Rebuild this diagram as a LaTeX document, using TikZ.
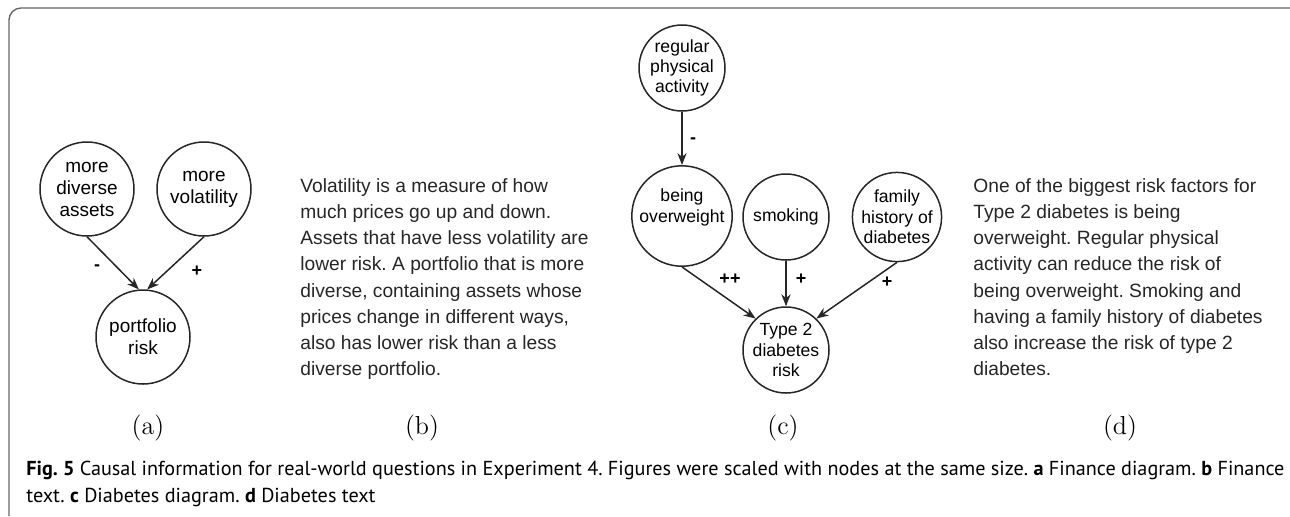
\documentclass[tikz,border=0pt]{standalone}
\usepackage{fontspec}
\newfontfamily\arial{Liberation Sans}
\newfontfamily\capfont{PT Sans}
\usepackage{tikz}
\usetikzlibrary{positioning, arrows.meta}
\frenchspacing

\begin{document}
\begin{tikzpicture}[x=0.5pt, y=-0.5pt,
    var/.style={circle, draw=black!85, line width=0.75pt, inner sep=0pt, align=center},
    bigvar/.style={var, minimum size=47pt, font=\arial\fontsize{9.5}{11}\selectfont},
    smallvar/.style={var, minimum size=43pt, font=\arial\fontsize{8.8}{10.2}\selectfont},
    link/.style={-{Stealth[length=6pt, width=4.6pt]}, line width=0.75pt, black!85},
    sgn/.style={font=\arial\bfseries\fontsize{9}{10}\selectfont, inner sep=0pt},
    para/.style={anchor=north west, inner sep=0pt, align=left, text=black!85, font=\arial\fontsize{9.6}{13.1}\selectfont},
    sublab/.style={font=\fontsize{13}{15}\selectfont},
    capline/.style={anchor=base west, inner sep=0pt, font=\capfont\fontsize{10.1}{13}\selectfont}]
    \useasboundingbox (0,0) rectangle (1290,516);
    \draw[black!60, line width=0.7pt] (9,516) -- (9,20) arc[start angle=180, end angle=90, radius=6pt] -- (1290,8);
    % finance diagram
    \node[bigvar] (div) at (87,189) {more\\diverse\\assets};
    \node[bigvar] (vol) at (204,189) {more\\volatility};
    \node[bigvar] (risk) at (143,337) {portfolio\\risk};
    \draw[link] (div.south) -- (risk.95);
    \draw[link] (vol.south) -- (risk.85);
    \node[sgn] (s1) at (97,268) {-};
    \node[sgn] (s2) at (197,271) {+};
    % diabetes diagram
    \node[smallvar] (act) at (682,68) {regular\\physical\\activity};
    \node[smallvar] (over) at (682,216) {being\\overweight\\ \mbox{}};
    \node[smallvar] (smk) at (786,217) {smoking};
    \node[smallvar] (fam) at (897,217) {family\\history of\\diabetes};
    \node[smallvar] (t2) at (786,350) {Type 2\\diabetes\\risk};
    \draw[link] (act) -- (over);
    \draw[link] (over.south) -- (t2.134);
    \draw[link] (smk) -- (t2);
    \draw[link] (fam.south) -- (t2.46);
    \node[sgn] (s3) at (693,141) {-};
    \node[sgn] (s4) at (730,279) {++};
    \node[sgn] (s5) at (801,279) {+};
    \node[sgn] (s6) at (887,282) {+};
    % texts
    \node[para] (fintxt) at (300,178) {Volatility is a measure of how\\much prices go up and down.\\Assets that have less volatility are\\lower risk. A portfolio that is more\\diverse, containing assets whose\\prices change in different ways,\\also has lower risk than a less\\diverse portfolio.};
    \node[para] (diatxt) at (973,178) {One of the biggest risk factors for\\Type 2 diabetes is being\\overweight. Regular physical\\activity can reduce the risk of\\being overweight. Smoking and\\having a family history of diabetes\\also increase the risk of type 2\\diabetes.};
    % sub labels
    \foreach \x/\l in {148/a, 422/b, 783/c, 1120/d}
        \node[sublab] (lab\l) at (\x,428) {(\l)};
    % caption
    \node[capline] (cap1) at (26,475) {\textbf{Fig. 5} Causal information for real-world questions in Experiment 4. Figures were scaled with nodes at the same size. \textbf{a} Finance diagram. \textbf{b} Finance};
    \node[capline] (cap2) at (26,502) {text. \textbf{c} Diabetes diagram. \textbf{d} Diabetes text};
\end{tikzpicture}
\end{document}
